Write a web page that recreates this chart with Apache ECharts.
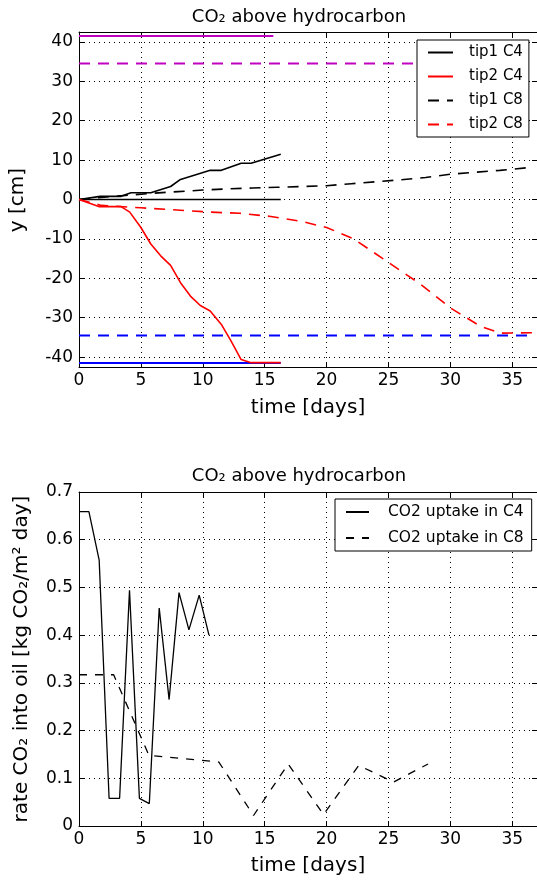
<!DOCTYPE html>
<html>
<head>
<meta charset="utf-8">
<script src="https://cdn.jsdelivr.net/npm/echarts@6/dist/echarts.min.js"></script>
<style>
html,body{margin:0;padding:0;background:#fff;}
#chart{width:537px;height:880px;}
</style>
</head>
<body>
<div id="chart"></div>
<script>
// ---------- data (top panel: y [cm] vs time [days]) ----------
var tip1C4 = [[0,0],[1.7,0.8],[3.4,0.8],[4.2,1.7],[5.8,1.7],[7.4,3.3],[8.2,5.1],[10.6,7.4],[11.5,7.4],[13.1,9.2],[13.9,9.2],[16.3,11.5]];
var tip2C4 = [[0,0],[1.6,-1.8],[3.4,-1.8],[4.1,-3.2],[5.0,-7.1],[5.8,-11.3],[6.6,-14.3],[7.4,-16.7],[8.2,-21.1],[9.0,-24.5],[9.8,-26.9],[10.6,-28.3],[11.5,-31.7],[12.3,-36.0],[13.1,-40.6],[13.9,-41.4],[16.3,-41.4]];
var tip1C8 = [[0,0],[2,0.6],[4,1.1],[6,1.6],[8,2.0],[10,2.4],[12,2.7],[14,2.9],[16,3.1],[18,3.3],[20,3.5],[22,4.0],[24,4.5],[26,5.0],[28,5.6],[30,6.4],[32,6.9],[34,7.4],[36.7,8.2]];
var tip2C8 = [[0,0],[1.8,-1.5],[5.0,-2.1],[10.6,-3.2],[13.0,-3.5],[15.5,-4.3],[17.9,-5.5],[20.0,-7.1],[22.2,-10.0],[25.2,-16.4],[27.6,-21.5],[30.0,-27.5],[32.4,-32.1],[34.0,-33.9],[36.7,-33.8]];
var zeroLine   = [[0,0],[16.3,0]];
var magSolid   = [[0,41.5],[15.7,41.5]];
var magDashed  = [[0,34.5],[36.4,34.5]];
var blueSolid  = [[0,-41.5],[16.3,-41.5]];
var blueDashed = [[0,-34.5],[36.4,-34.5]];

// ---------- data (bottom panel: uptake rate) ----------
var uptakeC4 = [[0,0.659],[0.8,0.659],[1.63,0.557],[2.43,0.058],[3.28,0.058],[4.08,0.494],[4.88,0.058],[5.68,0.047],[6.48,0.457],[7.28,0.265],[8.08,0.489],[8.88,0.411],[9.71,0.484],[10.5,0.400]];
var uptakeC8 = [[0,0.317],[2.8,0.317],[5.65,0.148],[8.5,0.141],[11.3,0.134],[14.1,0.022],[16.9,0.130],[19.75,0.024],[22.6,0.127],[25.4,0.092],[28.2,0.130]];

// ---------- axis settings ----------
var xMin = 0, xMax = 37, xInterval = 5;
var yTopMin = -42.5, yTopMax = 42.5;
var yBotMin = 0, yBotMax = 0.7, yBotInterval = 0.1;

var FONT = 'DejaVu Sans';
var chart = echarts.init(document.getElementById('chart'), null, {renderer:'canvas'});

var gridLine = {show:true, lineStyle:{color:'#000', width:1, type:[1,4]}};
var axLine = {show:true, onZero:false, lineStyle:{color:'#000', width:1}};
var tickIn = {show:true, inside:true, length:5, lineStyle:{color:'#000', width:1}};
var lbl = {color:'#000', fontSize:17, fontFamily:FONT};

function xAx(grid, pos, labels){
  return {type:'value', gridIndex:grid, position:pos, min:xMin, max:xMax, interval:xInterval,
    axisLine:axLine, axisTick:tickIn,
    axisLabel: labels ? Object.assign({margin:5, showMaxLabel:false}, lbl) : {show:false},
    splitLine: labels ? gridLine : {show:false}};
}
function yAx(grid, pos, labels, mn, mx, iv){
  var a = {type:'value', gridIndex:grid, position:pos, min:mn, max:mx,
    axisLine:axLine, axisTick:tickIn,
    axisLabel: labels ? Object.assign({margin:6, showMinLabel: iv ? true : false, showMaxLabel: iv ? true : false}, lbl) : {show:false},
    splitLine: labels ? gridLine : {show:false}};
  if (iv) a.interval = iv; else a.splitNumber = 8;
  return a;
}

function ln(name, data, color, dashed, xi, yi, w){
  return {name:name, type:'line', data:data, xAxisIndex:xi, yAxisIndex:yi,
    symbol:'none', showSymbol:false, animation:false, silent:true,
    lineStyle:{color:color, width:w, type: dashed ? (w>1.4 ? [11,8] : [8,8]) : 'solid'},
    itemStyle:{color:color}};
}

var legendCommon = {orient:'vertical', borderColor:'#000', borderWidth:1, borderRadius:0,
  backgroundColor:'#fff', selectedMode:false,
  itemStyle:{color:'rgba(0,0,0,0)', borderWidth:0, opacity:0}};

var option = {
  animation:false,
  backgroundColor:'#fff',
  grid:[
    {left:79, top:32, width:459, height:335},
    {left:79, top:492, width:459, height:334}
  ],
  xAxis:[ xAx(0,'bottom',true), xAx(0,'top',false), xAx(1,'bottom',true), xAx(1,'top',false) ],
  yAxis:[
    yAx(0,'left',true,yTopMin,yTopMax,null), yAx(0,'right',false,yTopMin,yTopMax,null),
    yAx(1,'left',true,yBotMin,yBotMax,yBotInterval), yAx(1,'right',false,yBotMin,yBotMax,yBotInterval)
  ],
  legend:[
    Object.assign({data:['tip1 C4','tip2 C4','tip1 C8','tip2 C8'], left:417, top:40,
     itemWidth:25, itemHeight:14, itemGap:9, padding:[5,6,5,10],
     textStyle:{fontFamily:FONT, fontSize:15, color:'#000', padding:[0,0,0,11]}}, legendCommon),
    Object.assign({data:['CO2 uptake in C4','CO2 uptake in C8'], left:335, top:499,
     itemWidth:23, itemHeight:14, itemGap:10, padding:[5,8,5,10],
     textStyle:{fontFamily:FONT, fontSize:15.5, color:'#000', padding:[0,0,0,14]}}, legendCommon)
  ],
  series:[
    ln('mag1', magSolid, '#bf00bf', false, 0, 0, 2),
    ln('mag2', magDashed, '#bf00bf', true, 0, 0, 2),
    ln('blue1', blueSolid, '#0000ff', false, 0, 0, 2),
    ln('blue2', blueDashed, '#0000ff', true, 0, 0, 2),
    ln('zero', zeroLine, '#000', false, 0, 0, 1.6),
    ln('tip1 C4', tip1C4, '#000', false, 0, 0, 1.6),
    ln('tip2 C4', tip2C4, '#ff0000', false, 0, 0, 1.6),
    ln('tip1 C8', tip1C8, '#000', true, 0, 0, 1.6),
    ln('tip2 C8', tip2C8, '#ff0000', true, 0, 0, 1.6),
    ln('CO2 uptake in C4', uptakeC4, '#000', false, 2, 2, 1.3),
    ln('CO2 uptake in C8', uptakeC8, '#000', true, 2, 2, 1.3)
  ],
  graphic:[
    {type:'text', x:299, y:17, style:{text:'CO₂ above hydrocarbon', font:'18px "DejaVu Sans"', fill:'#000', align:'center', verticalAlign:'middle'}},
    {type:'text', x:299, y:476, style:{text:'CO₂ above hydrocarbon', font:'18px "DejaVu Sans"', fill:'#000', align:'center', verticalAlign:'middle'}},
    {type:'text', x:308, y:408, style:{text:'time [days]', font:'20px "DejaVu Sans"', fill:'#000', align:'center', verticalAlign:'middle'}},
    {type:'text', x:308, y:866, style:{text:'time [days]', font:'20px "DejaVu Sans"', fill:'#000', align:'center', verticalAlign:'middle'}},
    {type:'text', x:18, y:200, rotation:Math.PI/2, style:{text:'y [cm]', font:'20px "DejaVu Sans"', fill:'#000', align:'center', verticalAlign:'middle'}},
    {type:'text', x:22, y:659, rotation:Math.PI/2, style:{text:'rate CO₂ into oil [kg CO₂/m² day]', font:'20px "DejaVu Sans"', fill:'#000', align:'center', verticalAlign:'middle'}}
  ]
};
chart.setOption(option);
</script>
</body>
</html>
